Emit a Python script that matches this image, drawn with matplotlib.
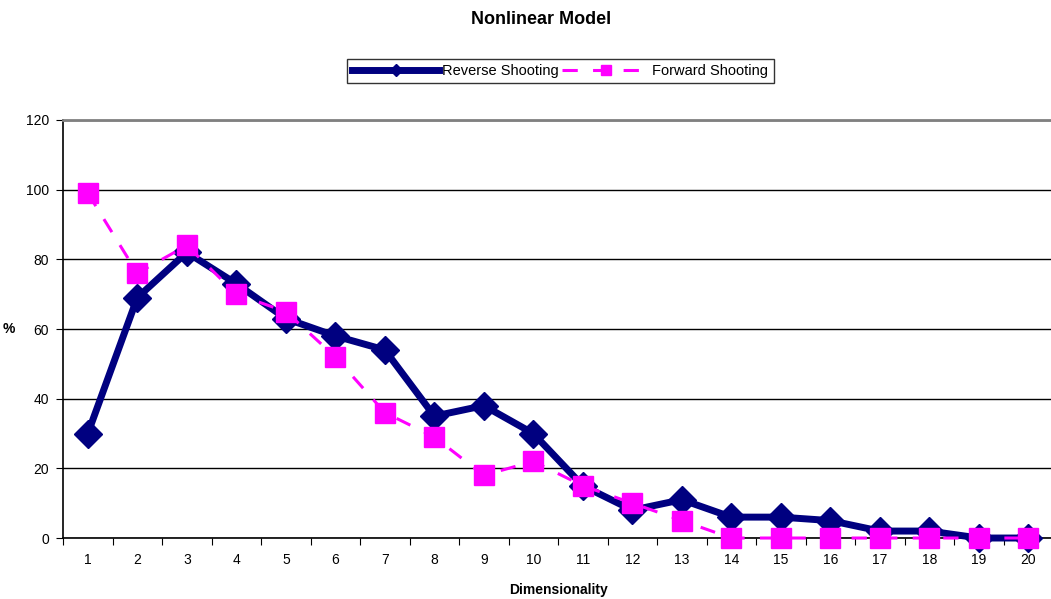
import numpy as np
import matplotlib.pyplot as plt

plt.rcParams['font.family'] = ['Liberation Sans', 'DejaVu Sans']

# 维度类别
dims = list(range(1, 21))
# 两种方法的百分比
reverse_pct = [30, 69, 82, 73, 63, 58, 54, 35, 38, 30, 15, 8, 11, 6, 6, 5, 2, 2, 0, 0]
forward_pct = [99, 76, 84, 70, 65, 52, 36, 29, 18, 22, 15, 10, 5, 0, 0, 0, 0, 0, 0, 0]

fig = plt.figure(figsize=(10.51, 5.99), dpi=100)
ax = fig.add_axes([0.06, 0.1018, 0.942, 0.6979])

ax.plot(dims, reverse_pct, color='#000080', lw=5, marker='D', ms=14,
        label='Reverse Shooting', zorder=3, clip_on=False)
ax.plot(dims, forward_pct, color='#FF00FF', lw=2.2, ls=(0, (5, 5)), marker='s',
        ms=15, label='Forward Shooting', zorder=4, clip_on=False)

ax.set_xlim(0.5, 20.5)
ax.set_ylim(0, 120)
ax.set_yticks(np.arange(0, 121, 20))
ax.yaxis.grid(True, color='black', lw=1)
ax.set_axisbelow(True)

# 刻度在类别之间，标签在类别中心
ax.set_xticks(np.arange(0.5, 21, 1))
ax.set_xticklabels([])
ax.set_xticks(dims, minor=True)
ax.set_xticklabels([str(d) for d in dims], minor=True)
ax.tick_params(axis='x', which='minor', length=0, pad=11, labelsize=10)
ax.tick_params(axis='x', which='major', length=5, direction='out', color='black')
ax.tick_params(axis='y', length=5, labelsize=10, pad=5)

for s in ['left', 'bottom']:
    ax.spines[s].set_color('black')
    ax.spines[s].set_linewidth(1.2)
ax.spines['top'].set_color('#808080')
ax.spines['top'].set_linewidth(2)
ax.spines['right'].set_visible(False)

ax.set_xlabel('Dimensionality', fontweight='bold', fontsize=10, labelpad=11)
ax.set_ylabel('%', fontweight='bold', fontsize=10, rotation=0, labelpad=12, va='center')

fig.text(0.515, 0.968, 'Nonlinear Model', ha='center', va='center',
         fontsize=13, fontweight='bold')

leg = fig.legend(loc='center', bbox_to_anchor=(0.533, 0.8815), ncol=2,
                 frameon=True, fancybox=False, edgecolor='black', fontsize=10.5,
                 handlelength=6.0, columnspacing=0.2, handletextpad=0.2,
                 borderpad=0.35, markerscale=0.45)
leg.get_frame().set_linewidth(1)

fig.savefig('out.png', dpi=100)
